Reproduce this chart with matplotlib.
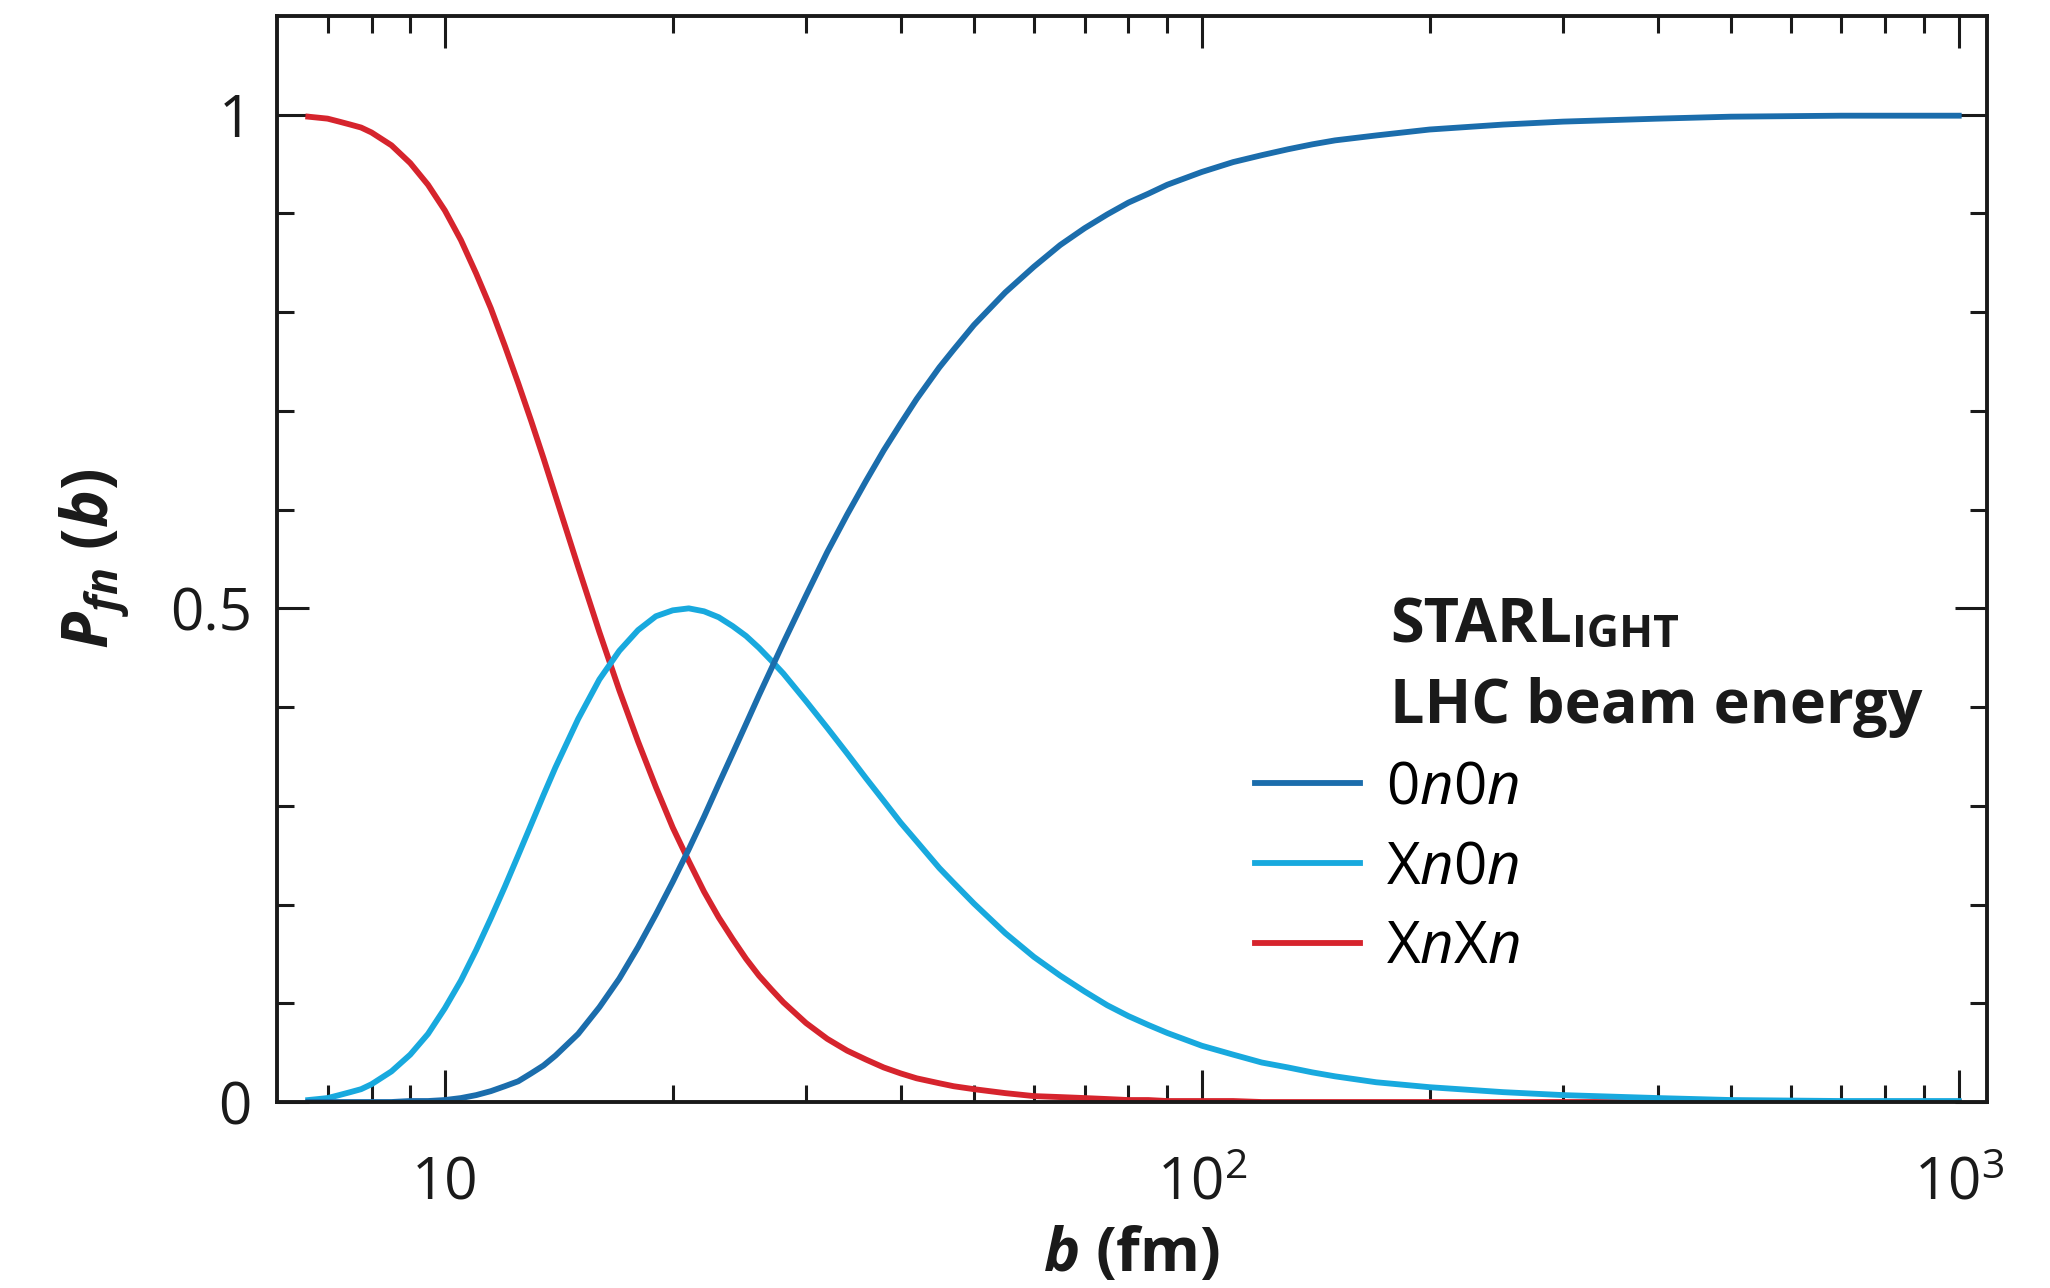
import matplotlib
matplotlib.use("Agg")
import matplotlib.pyplot as plt
from matplotlib.ticker import FixedLocator, NullFormatter

plt.rcParams['font.family'] = ['Open Sans', 'DejaVu Sans']
plt.rcParams['mathtext.fontset'] = 'custom'
plt.rcParams['mathtext.rm'] = 'Open Sans'
plt.rcParams['mathtext.it'] = 'Open Sans:italic'
plt.rcParams['mathtext.bf'] = 'Open Sans:bold'
plt.rcParams['mathtext.bfit'] = 'Open Sans:bold:italic'

# impact parameter b (fm) and probabilities
b = [6.6, 6.8, 7, 7.25, 7.5, 7.75, 8, 8.5, 9, 9.5,
     10, 10.5, 11, 11.5, 12, 12.5, 13, 13.5, 14, 15,
     16, 17, 18, 19, 20, 21, 22, 23, 24, 25,
     26, 27, 28, 30, 32, 34, 36, 38, 40, 42,
     45, 47, 50, 55, 60, 65, 70, 75, 80, 85,
     90, 100, 110, 120, 130, 140, 150, 170, 200, 250,
     300, 400, 500, 700, 1000]
p_0n0n = [0.000, 0.000, 0.000, 0.000, 0.000, 0.000, 0.000, 0.000, 0.001, 0.001,
          0.002, 0.004, 0.007, 0.011, 0.016, 0.021, 0.029, 0.037, 0.047, 0.069,
          0.096, 0.125, 0.157, 0.190, 0.223, 0.256, 0.289, 0.322, 0.353, 0.383,
          0.412, 0.439, 0.465, 0.513, 0.557, 0.595, 0.629, 0.660, 0.687, 0.712,
          0.744, 0.762, 0.787, 0.820, 0.846, 0.868, 0.885, 0.899, 0.911, 0.920,
          0.929, 0.942, 0.952, 0.959, 0.965, 0.970, 0.974, 0.979, 0.985, 0.990,
          0.993, 0.996, 0.998, 0.999, 0.999]
p_xn0n = [0.002, 0.003, 0.004, 0.007, 0.010, 0.013, 0.018, 0.031, 0.048, 0.069,
          0.095, 0.123, 0.154, 0.186, 0.218, 0.250, 0.281, 0.311, 0.339, 0.388,
          0.428, 0.457, 0.478, 0.492, 0.498, 0.500, 0.497, 0.491, 0.482, 0.472,
          0.460, 0.447, 0.434, 0.406, 0.379, 0.353, 0.328, 0.305, 0.283, 0.264,
          0.237, 0.222, 0.201, 0.171, 0.147, 0.128, 0.112, 0.098, 0.087, 0.078,
          0.070, 0.057, 0.048, 0.040, 0.035, 0.030, 0.026, 0.020, 0.015, 0.010,
          0.007, 0.004, 0.002, 0.001, 0.001]
p_xnxn = [0.998, 0.997, 0.996, 0.993, 0.990, 0.987, 0.982, 0.969, 0.951, 0.929,
          0.903, 0.873, 0.839, 0.804, 0.766, 0.728, 0.690, 0.652, 0.614, 0.542,
          0.476, 0.417, 0.365, 0.319, 0.278, 0.244, 0.213, 0.187, 0.165, 0.145,
          0.128, 0.114, 0.101, 0.080, 0.064, 0.052, 0.043, 0.035, 0.029, 0.024,
          0.019, 0.016, 0.013, 0.009, 0.006, 0.005, 0.004, 0.003, 0.002, 0.002,
          0.001, 0.001, 0.001, 0.000, 0.000, 0.000, 0.000, 0.000, 0.000, 0.000,
          0.000, 0.000, 0.000, 0.000, 0.000]

labels = [r'0$\it{n}$0$\it{n}$', r'X$\it{n}$0$\it{n}$', r'X$\it{n}$X$\it{n}$']
colors = ['#1b6dac', '#18a9de', '#d6242d']

fig = plt.figure(figsize=(20.5, 12.88), dpi=100)
ax = fig.add_axes([0.1351, 0.1444, 0.9693 - 0.1351, 0.9876 - 0.1444])

l3, = ax.plot(b, p_xnxn, color=colors[2], lw=4.2, label=labels[2])
l2, = ax.plot(b, p_xn0n, color=colors[1], lw=4.2, label=labels[1])
l1, = ax.plot(b, p_0n0n, color=colors[0], lw=4.2, label=labels[0])

ax.set_xscale('log')
ax.set_xlim(6.0, 1090)
ax.set_ylim(0, 1.1)

ax.xaxis.set_major_locator(FixedLocator([10, 100, 1000]))
ax.set_xticklabels(['10', r'10$^{2}$', r'10$^{3}$'])
ax.xaxis.set_minor_locator(FixedLocator([7, 8, 9, 20, 30, 40, 50, 60, 70, 80, 90,
                                         200, 300, 400, 500, 600, 700, 800, 900]))
ax.xaxis.set_minor_formatter(NullFormatter())
ax.yaxis.set_major_locator(FixedLocator([0, 0.5, 1]))
ax.set_yticklabels(['0', '0.5', '1'])
ax.yaxis.set_minor_locator(FixedLocator([0.1, 0.2, 0.3, 0.4, 0.6, 0.7, 0.8, 0.9]))

ax.tick_params(which='both', direction='in', top=True, right=True, width=2.2,
               labelsize=42, color='#1a1a1a', labelcolor='#1a1a1a')
ax.tick_params(which='major', length=23)
ax.tick_params(which='minor', length=12)
ax.tick_params(axis='y', which='major', pad=18)
ax.tick_params(axis='x', which='major', pad=38)
for s in ax.spines.values():
    s.set_linewidth(2.8)
    s.set_color('#1a1a1a')

ax.set_xlabel(r'$\mathbfit{b}$ (fm)', fontsize=44, fontweight='bold',
              color='#1a1a1a', va='center')
ax.xaxis.set_label_coords(0.5, -0.141)
ax.set_ylabel(r'$\mathbfit{P}_{\mathbfit{fn}}$ ($\mathbfit{b}$)', fontsize=46,
              fontweight='bold', labelpad=28, color='#1a1a1a')

t1 = ax.text(0.651, 0.423, 'STARL', transform=ax.transAxes, fontsize=44,
             fontweight='bold', va='baseline', color='#1a1a1a')
ax.annotate('IGHT', xy=(1.0, 0.0), xycoords=t1, fontsize=32, fontweight='bold',
            va='bottom', color='#1a1a1a')
ax.text(0.651, 0.349, 'LHC beam energy', transform=ax.transAxes, fontsize=44,
        fontweight='bold', va='baseline', color='#1a1a1a')

ax.legend(handles=[l1, l2, l3], loc='upper left', bbox_to_anchor=(0.572, 0.316),
          frameon=False, fontsize=42, handlelength=1.8, handletextpad=0.45,
          labelspacing=0.37, borderpad=0, borderaxespad=0)

fig.savefig('out.png', dpi=100)
